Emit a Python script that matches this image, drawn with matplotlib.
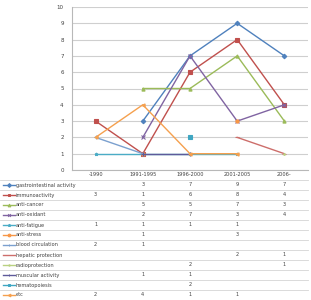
import numpy as np
import matplotlib
matplotlib.use('Agg')
import matplotlib.pyplot as plt
from matplotlib import transforms
from matplotlib.lines import Line2D

nan = np.nan
periods = ['-1990', '1991-1995', '1996-2000', '2001-2005', '2006-']

# one row per activity, values per period (nan = no entry)
gastrointestinal = [nan, 3, 7, 9, 7]
immunoactivity = [3, 1, 6, 8, 4]
anti_cancer = [nan, 5, 5, 7, 3]
anti_oxidant = [nan, 2, 7, 3, 4]
anti_fatigue = [1, 1, 1, 1, nan]
anti_stress = [nan, 1, nan, 3, nan]
blood_circulation = [2, 1, nan, nan, nan]
hepatic_protection = [nan, nan, nan, 2, 1]
radioprotection = [nan, nan, 2, nan, 1]
muscular_activity = [nan, 1, 1, nan, nan]
hematopoiesis = [nan, nan, 2, nan, nan]
etc = [2, 4, 1, 1, nan]

names = ['gastrointestinal activity', 'immunoactivity', 'anti-cancer', 'anti-oxidant',
         'anti-fatigue', 'anti-stress', 'blood circulation', 'hepatic protection',
         'radioprotection', 'muscular activity', 'hematopoiesis', 'etc']
rows = [gastrointestinal, immunoactivity, anti_cancer, anti_oxidant, anti_fatigue,
        anti_stress, blood_circulation, hepatic_protection, radioprotection,
        muscular_activity, hematopoiesis, etc]
colors = ['#4F81BD', '#C0504D', '#9BBB59', '#8064A2', '#4BACC6', '#F79646',
          '#7BA0CF', '#CD6E6B', '#B9D181', '#5E5A9A', '#3FA6C2', '#F5A04E']
markers = ['D', 's', '^', 'x', '*', 'o', '+', '_', '.', '+', 's', '<']

W, H = 311, 300
fig = plt.figure(figsize=(W / 100, H / 100), dpi=100)
ax = fig.add_axes([72 / W, (H - 170) / H, 236 / W, 163 / H])

x = np.arange(len(periods))
for vals, c, m in zip(rows, colors, markers):
    ax.plot(x, vals, color=c, lw=1.0, marker=m, ms=2.3, mew=0.8)

ax.set_xlim(-0.5, len(periods) - 0.5)
ax.set_ylim(0, 10)
ax.set_yticks(range(11))
ax.tick_params(axis='y', labelsize=4, length=0, pad=6, colors='#404040')
ax.set_xticks([])
ax.grid(axis='y', color='#CFCFCF', lw=0.8)
ax.set_axisbelow(True)
for s in ['top', 'right']:
    ax.spines[s].set_visible(False)
ax.spines['left'].set_color('#B8B8B8')
ax.spines['bottom'].set_color('#B8B8B8')
ax.spines['left'].set_linewidth(0.8)
ax.spines['bottom'].set_linewidth(0.8)

# data table below the chart
fy = lambda py: (H - py) / H
blend = transforms.blended_transform_factory(ax.transData, fig.transFigure)
for i, p in enumerate(periods):
    ax.text(i, fy(175), p, transform=blend, ha='center', va='center', fontsize=3.6,
            color='#404040', clip_on=False)

row_h = 10
top = 180
for r, (name, vals, c, m) in enumerate(zip(names, rows, colors, markers)):
    yc = top + row_h * r + 5
    fig.add_artist(Line2D([0, 308 / W], [fy(top + row_h * r)] * 2, color='#D5D5D5', lw=0.6))
    fig.add_artist(Line2D([3 / W, 15 / W], [fy(yc)] * 2, color=c, lw=1.0))
    fig.add_artist(Line2D([9 / W], [fy(yc)], color=c, marker=m, ms=2, mew=0.7))
    fig.text(16 / W, fy(yc), name, fontsize=3.6, va='center', ha='left', color='#404040')
    for i, v in enumerate(vals):
        if not np.isnan(v):
            ax.text(i, fy(yc), '%d' % v, transform=blend, ha='center', va='center',
                    fontsize=3.6, color='#404040', clip_on=False)

fig.savefig('out.png', dpi=100)
